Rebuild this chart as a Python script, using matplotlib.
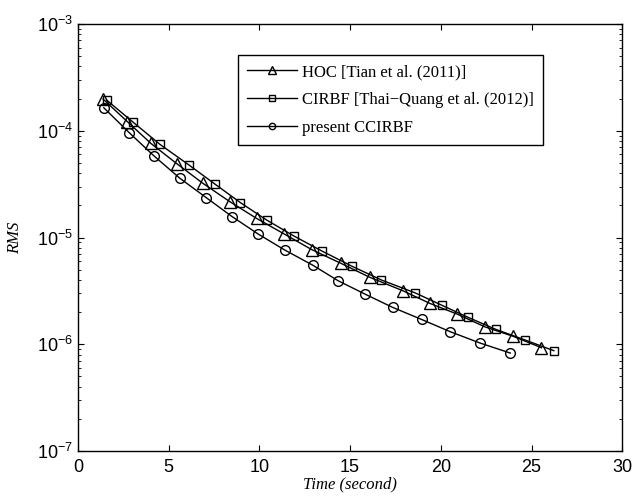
import matplotlib
matplotlib.use("Agg")
import matplotlib.pyplot as plt
from matplotlib.ticker import LogLocator, FixedLocator

plt.rcParams["font.family"] = "Liberation Sans"
plt.rcParams["font.size"] = 13

# data
hoc_t = [1.39, 2.72, 4.02, 5.47, 6.90, 8.37, 9.85, 11.37, 12.88, 14.49,
         16.09, 17.92, 19.39, 20.90, 22.42, 23.98, 25.55]
hoc_rms = [1.98e-4, 1.22e-4, 7.62e-5, 4.89e-5, 3.21e-5, 2.17e-5, 1.51e-5,
           1.08e-5, 7.72e-6, 5.74e-6, 4.24e-6, 3.17e-6, 2.42e-6, 1.92e-6,
           1.46e-6, 1.19e-6, 9.29e-7]

cirbf_t = [1.58, 3.05, 4.52, 6.12, 7.55, 8.96, 10.40, 11.92, 13.48, 15.08,
           16.73, 18.57, 20.04, 21.50, 23.03, 24.63, 26.23]
cirbf_rms = [1.94e-4, 1.20e-4, 7.46e-5, 4.78e-5, 3.17e-5, 2.12e-5, 1.46e-5,
             1.03e-5, 7.43e-6, 5.41e-6, 4.00e-6, 3.04e-6, 2.33e-6, 1.79e-6,
             1.38e-6, 1.10e-6, 8.71e-7]

cc_t = [1.43, 2.83, 4.20, 5.62, 7.08, 8.50, 9.93, 11.40, 12.95, 14.34,
        15.81, 17.34, 18.94, 20.53, 22.15, 23.83]
cc_rms = [1.64e-4, 9.59e-5, 5.80e-5, 3.59e-5, 2.36e-5, 1.57e-5, 1.08e-5,
          7.64e-6, 5.50e-6, 3.94e-6, 2.96e-6, 2.22e-6, 1.71e-6, 1.31e-6,
          1.03e-6, 8.28e-7]

labels = ["HOC [Tian et al. (2011)]",
          "CIRBF [Thai\u2212Quang et al. (2012)]",
          "present CCIRBF"]

fig = plt.figure(figsize=(6.33, 4.99), dpi=100)
ax = fig.add_axes([0.123, 0.096, 0.860, 0.856])

mk = dict(color="black", lw=1.0, mfc="none", mec="black", mew=1.0)
l1, = ax.plot(hoc_t, hoc_rms, marker="^", ms=8, **mk)
l2, = ax.plot(cirbf_t, cirbf_rms, marker="s", ms=6, **mk)
l3, = ax.plot(cc_t, cc_rms, marker="o", ms=7, **mk)

ax.set_yscale("log")
ax.set_xlim(0, 30)
ax.set_ylim(1e-7, 1e-3)
ax.xaxis.set_major_locator(FixedLocator([0, 5, 10, 15, 20, 25, 30]))
ax.yaxis.set_major_locator(LogLocator(base=10, numticks=10))
ax.yaxis.set_minor_locator(LogLocator(base=10, subs=range(2, 10), numticks=10))
ax.tick_params(which="both", direction="in", top=True, right=True)
ax.tick_params(which="major", length=4, labelsize=13)
ax.tick_params(axis="x", which="major", pad=6)
ax.tick_params(which="minor", length=2)
for s in ax.spines.values():
    s.set_linewidth(1.0)

ax.set_xlabel("Time (second)", fontfamily="Liberation Serif", style="italic",
              fontsize=12, labelpad=0)
ax.set_ylabel("RMS", fontfamily="Liberation Serif", style="italic",
              fontsize=12, labelpad=10)

leg = ax.legend([l1, l2, l3], labels, loc="upper left",
                bbox_to_anchor=(0.294, 0.927), borderaxespad=0,
                frameon=True, fancybox=False,
                edgecolor="black", framealpha=1, handlelength=3.0,
                handletextpad=0.3, borderpad=0.55, labelspacing=0.7,
                markerscale=0.65, prop={"family": "Liberation Serif", "size": 12})
leg.get_frame().set_linewidth(1.0)

fig.savefig("out.png", dpi=100)
